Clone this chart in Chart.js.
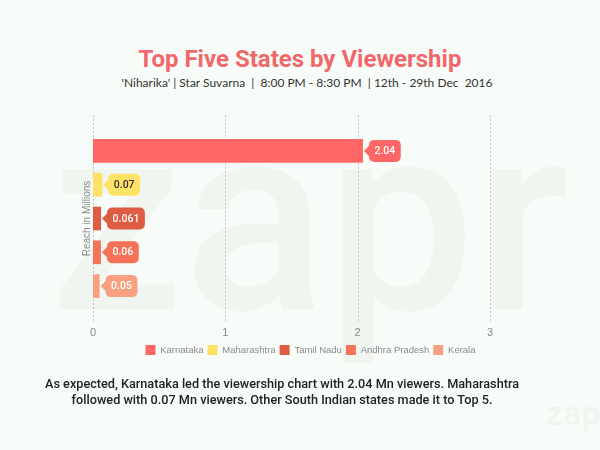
<!DOCTYPE html>
<html>
<head>
<meta charset="utf-8">
<script src="https://cdn.jsdelivr.net/npm/chart.js@4.4.1/dist/chart.umd.min.js"></script>
<style>
  html, body { margin: 0; padding: 0; background: #f8fcf8; }
  #wrap { position: relative; width: 600px; height: 450px; overflow: hidden; }
  .mark { position: absolute; color: #f0f5f0; font-family: 'Roboto', sans-serif; font-weight: 500; line-height: 1; white-space: nowrap; }
  #markBig { left: 50px; top: 86px; font-size: 265px; letter-spacing: 0px; }
  #markSmall { left: 546px; top: 396px; font-size: 34px; }
  #title { position: absolute; top: 45px; width: 600px; text-align: center; font: 700 24px 'Roboto', sans-serif; color: #f0686b; }
  #subtitle { position: absolute; top: 75px; width: 600px; text-align: center; font: 12px 'Lato', sans-serif; color: #333; white-space: pre; padding-left: 14px; box-sizing: border-box; }
  #note { position: absolute; top: 376px; width: 564px; text-align: center; font: 500 12.7px 'Roboto', sans-serif; color: #222; line-height: 16px; }
  canvas { position: absolute; left: 0; top: 0; }
</style>
</head>
<body>
<div id="wrap">
  <div class="mark" id="markBig">zapr</div>
  <div class="mark" id="markSmall">zapr</div>
  <div id="title">Top Five States by Viewership</div>
  <div id="subtitle">'Niharika' | Star Suvarna  |  8:00 PM - 8:30 PM  | 12th - 29th Dec  2016</div>
  <canvas id="graficoEstados" width="600" height="450"></canvas>
  <div id="note">As expected, Karnataka led the viewership chart with 2.04 Mn viewers. Maharashtra<br>followed with 0.07 Mn viewers. Other South Indian states made it to Top 5.</div>
</div>
<script>
const states = ['Karnataka', 'Maharashtra', 'Tamil Nadu', 'Andhra Pradesh', 'Kerala'];
const reach = [2.04, 0.07, 0.061, 0.06, 0.05];
const xTicks = [0, 1, 2, 3];

const barColors = ['#ff6767', '#fee266', '#de5c43', '#f47358', '#f8a182'];
const tagTextColors = ['#ffffff', '#333333', '#ffffff', '#ffffff', '#ffffff'];

// dashed vertical grid lines, a bit taller than the bars area
const dashedGrid = {
  id: 'dashedGrid',
  beforeDatasetsDraw(chart) {
    const { ctx, chartArea, scales: { x } } = chart;
    ctx.save();
    ctx.strokeStyle = '#c4c4c4';
    ctx.lineWidth = 1;
    ctx.setLineDash([2, 2]);
    xTicks.forEach(v => {
      const px = Math.round(x.getPixelForValue(v)) + 0.5;
      ctx.beginPath();
      ctx.moveTo(px, chartArea.top - 19);
      ctx.lineTo(px, chartArea.bottom + 20);
      ctx.stroke();
    });
    ctx.restore();
  }
};

// value tags with a small arrow pointing to the bar end
const valueTags = {
  id: 'valueTags',
  afterDatasetsDraw(chart) {
    const ctx = chart.ctx;
    const meta = chart.getDatasetMeta(0);
    ctx.save();
    ctx.font = '500 10.5px Roboto, sans-serif';
    ctx.textAlign = 'center';
    ctx.textBaseline = 'middle';
    meta.data.forEach((bar, i) => {
      const txt = String(reach[i]);
      const w = ctx.measureText(txt).width + 11;
      const h = 22;
      const tip = bar.x + 1;
      const left = tip + 5;
      const top = bar.y - h / 2;
      ctx.fillStyle = barColors[i];
      ctx.beginPath();
      ctx.roundRect(left, top, w, h, 5);
      ctx.fill();
      ctx.beginPath();
      ctx.moveTo(tip, bar.y);
      ctx.lineTo(left + 1, bar.y - 6);
      ctx.lineTo(left + 1, bar.y + 6);
      ctx.closePath();
      ctx.fill();
      ctx.fillStyle = tagTextColors[i];
      ctx.fillText(txt, left + w / 2, bar.y + 0.5);
    });
    ctx.restore();
  }
};

const ctx = document.getElementById('graficoEstados').getContext('2d');
new Chart(ctx, {
  type: 'bar',
  data: {
    labels: states,
    datasets: [{
      label: 'Reach in Millions',
      data: reach,
      backgroundColor: barColors,
      barPercentage: 0.7,
      categoryPercentage: 1
    }]
  },
  options: {
    indexAxis: 'y',
    responsive: false,
    animation: false,
    layout: {
      padding: { top: 134, left: 77, right: 56, bottom: 85 }
    },
    scales: {
      x: {
        min: 0,
        max: 3,
        ticks: {
          stepSize: 1,
          color: '#8a8a8a',
          padding: 23,
          font: { family: '"Liberation Sans", Arial, sans-serif', size: 11 }
        },
        grid: { display: false, drawTicks: false },
        border: { display: false },
        afterFit(s) { s.height = 38; }
      },
      y: {
        ticks: { display: false },
        grid: { display: false },
        border: { display: false },
        title: {
          display: true,
          text: 'Reach in Millions',
          color: '#8a8a8a',
          font: { family: '"Liberation Sans", Arial, sans-serif', size: 10 }
        },
        afterFit(s) { s.width = 16; }
      },
      y2: {
        type: 'linear',
        position: 'right',
        ticks: { display: false },
        grid: { display: false },
        border: { display: false },
        afterFit(s) { s.width = 54; }
      }
    },
    plugins: {
      legend: {
        position: 'bottom',
        onClick: null,
        labels: {
          boxWidth: 10,
          boxHeight: 10,
          padding: 4,
          color: '#8a8a8a',
          font: { family: '"Liberation Sans", Arial, sans-serif', size: 9.5 },
          generateLabels: () => states.map((s, i) => ({
            text: s,
            fillStyle: barColors[i],
            strokeStyle: barColors[i],
            lineWidth: 0,
            fontColor: '#8a8a8a',
            hidden: false,
            index: i
          }))
        }
      },
      tooltip: { enabled: false }
    }
  },
  plugins: [dashedGrid, valueTags]
});
</script>
</body>
</html>
